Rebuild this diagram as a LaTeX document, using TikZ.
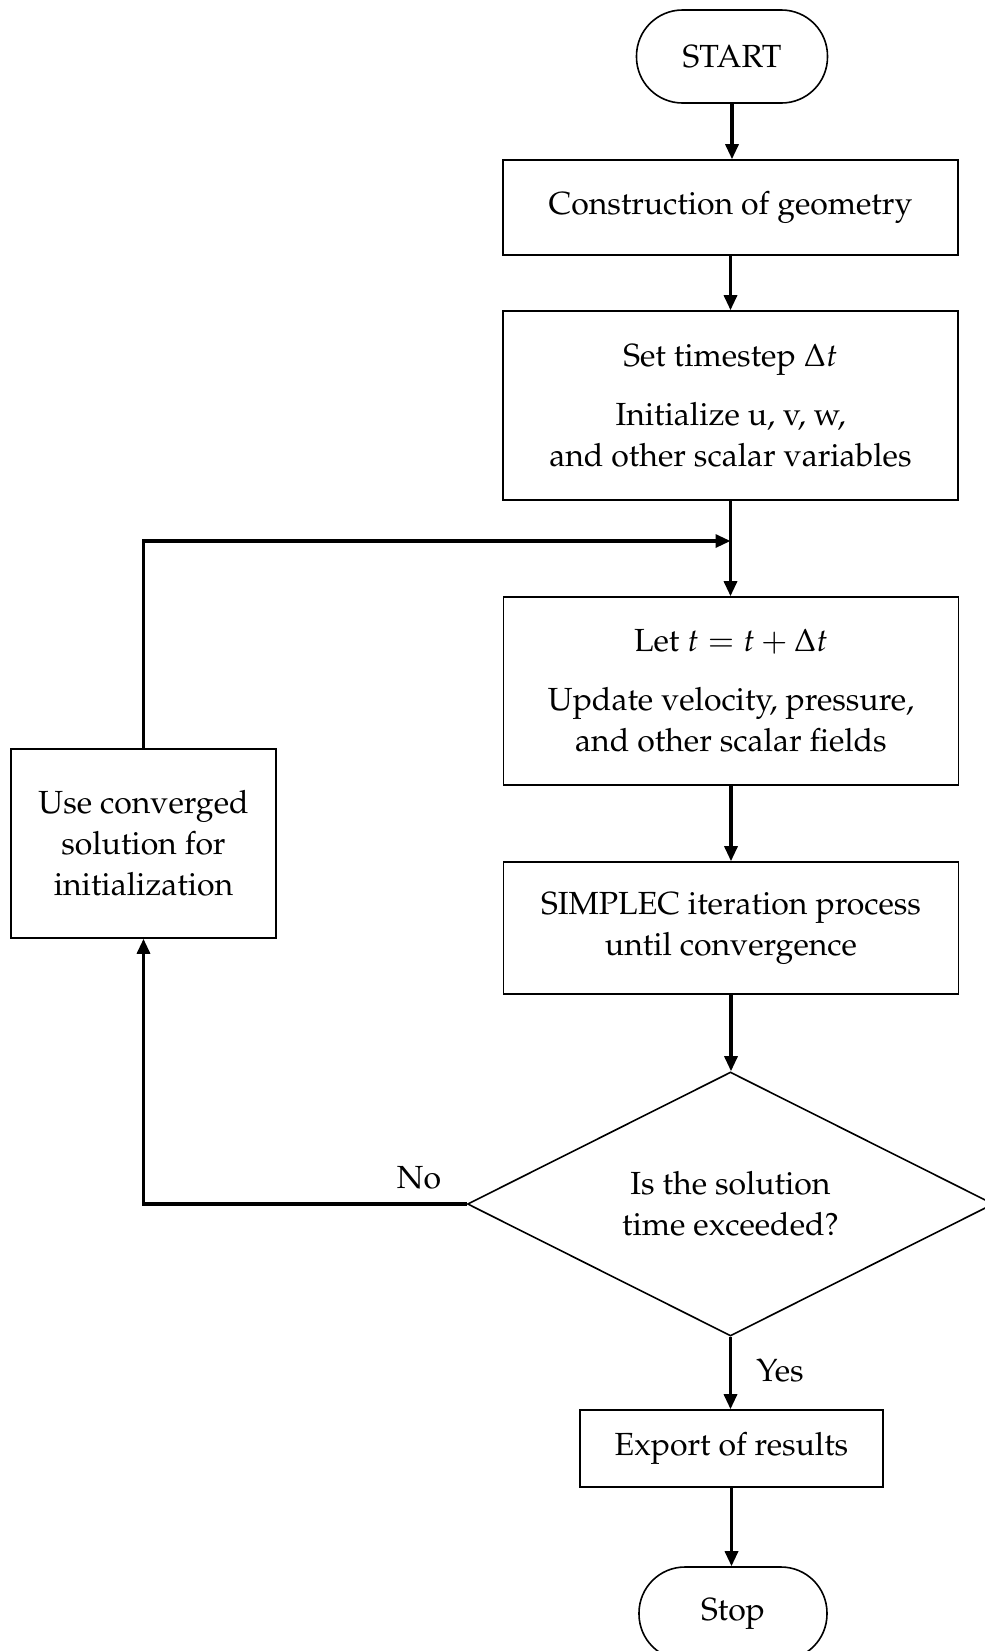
\documentclass[tikz,border=0pt]{standalone}
\usepackage[T1]{fontenc}
\usepackage{mathpazo}
\usetikzlibrary{shapes.geometric,arrows.meta}
\begin{document}
\begin{tikzpicture}[x=0.5pt,y=-0.5pt,
  box/.style={draw,line width=0.8pt,inner sep=0pt,align=center,font=\fontsize{16}{20.5}\selectfont},
  term/.style={box,rounded corners=23pt},
  flow/.style={line width=1.6pt,-{Triangle[width=6.5pt,length=7.5pt]}},
  lbl/.style={font=\fontsize{16}{20.5}\selectfont,inner sep=0pt}]
\useasboundingbox (0,0) rectangle (985,1651);
\clip (0,0) rectangle (985,1651);
\node[term,minimum width=95.5pt,minimum height=46.5pt] (start) at (732,56.5) {START};
\node[box,minimum width=227.5pt,minimum height=47.5pt] (geom) at (730.5,207.5) {Construction of geometry};
\node[box,minimum width=227.5pt,minimum height=94.5pt] (init) at (730.5,405.5) {Set timestep $\Delta t$\\[9pt]Initialize u, v, w,\\and other scalar variables};
\coordinate (junc) at (730.5,541);
\node[box,minimum width=227.5pt,minimum height=94pt] (let) at (731,691) {Let $t = t + \Delta t$\\[9pt]Update velocity, pressure,\\and other scalar fields};
\node[box,minimum width=227.5pt,minimum height=66pt] (simplec) at (731,928) {SIMPLEC iteration process\\until convergence};
\node[box,shape=diamond,shape aspect=2,minimum width=263pt,minimum height=132pt] (dec) at (730.5,1204) {Is the solution\\time exceeded?};
\node[box,minimum width=151.5pt,minimum height=38.5pt] (export) at (731.5,1448.5) {Export of results};
\node[term,minimum width=94pt,minimum height=46.5pt] (stop) at (733,1613.5) {Stop};
\node[box,minimum width=132.5pt,minimum height=94.5pt] (use) at (143.5,843.5) {Use converged\\solution for\\initialization};
\node[lbl] (no) at (419,1178) {No};
\node[lbl] (yes) at (780,1371) {Yes};
\draw[flow] (start.south) -- (start.south |- geom.north);
\draw[flow] (geom.south) -- (geom.south |- init.north);
\draw[flow] (init.south) -- (init.south |- let.north);
\draw[flow] (let.south) -- (let.south |- simplec.north);
\draw[flow] (simplec.south) -- (simplec.south |- dec.north);
\draw[flow] (dec.south) -- (dec.south |- export.north);
\draw[flow] (export.south) -- (export.south |- stop.north);
\draw[flow] (dec.west) -- (use.south |- dec.west) -- (use.south);
\draw[flow] (use.north) -- (use.north |- junc) -- (junc);
\end{tikzpicture}
\end{document}
